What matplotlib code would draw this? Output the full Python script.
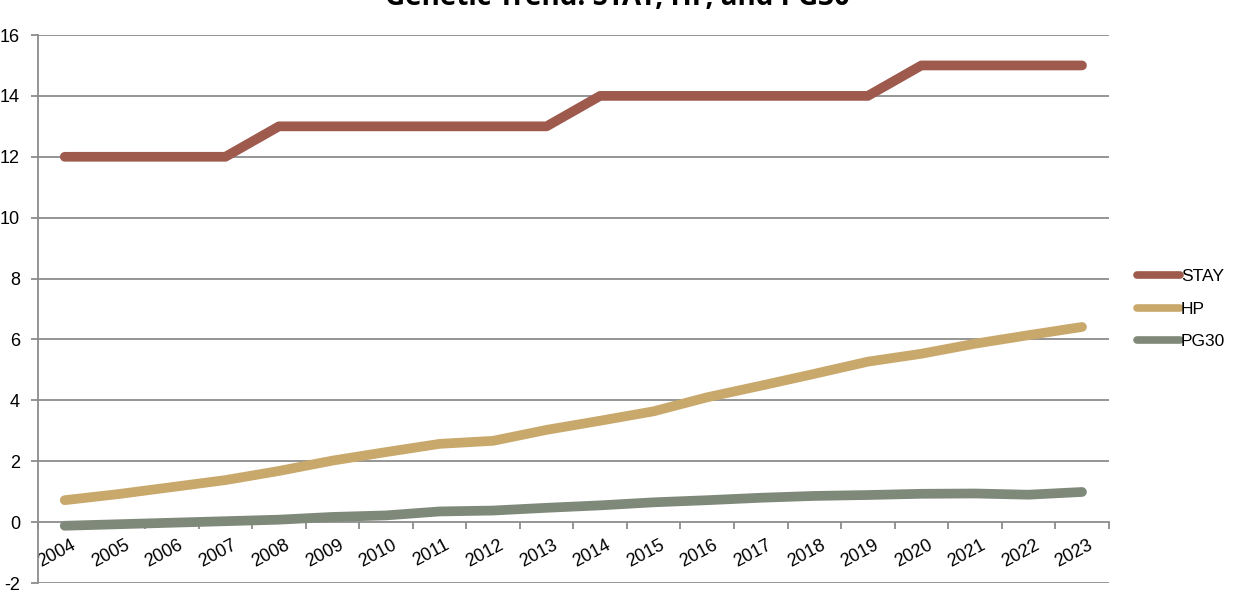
import matplotlib
matplotlib.use("Agg")
import matplotlib.pyplot as plt
import matplotlib.transforms as mtransforms
import numpy as np

years = [str(y) for y in range(2004, 2024)]
stay = [12, 12, 12, 12, 13, 13, 13, 13, 13, 13, 14, 14, 14, 14, 14, 14, 15, 15, 15, 15]
hp = [0.72, 0.92, 1.15, 1.38, 1.68, 2.02, 2.30, 2.57, 2.67, 3.03, 3.33, 3.64, 4.10, 4.48, 4.87, 5.27, 5.53, 5.86, 6.14, 6.41]
pg30 = [-0.12, -0.07, -0.02, 0.03, 0.08, 0.17, 0.22, 0.35, 0.38, 0.47, 0.55, 0.65, 0.72, 0.80, 0.86, 0.89, 0.93, 0.94, 0.90, 0.99]
series_names = ["STAY", "HP", "PG30"]
colors = ["#9E5A4D", "#C9A86C", "#7F897A"]
title = "Genetic Trend: STAY, HP, and PG30"
yticks = list(range(-2, 17, 2))

plt.rcParams['font.family'] = ['Liberation Sans', 'DejaVu Sans']

W, H = 1235, 599
fig = plt.figure(figsize=(W / 100, H / 100), dpi=100)
ax = fig.add_axes([38 / W, 1 - 583 / H, (1108.75 - 38) / W, (583 - 35) / H])

grid_c = "#8C8C8C"
x = np.arange(len(years))
for name, vals, c in zip(series_names, [stay, hp, pg30], colors):
    ax.plot(x, vals, color=c, lw=7, solid_capstyle='round', solid_joinstyle='round', label=name, zorder=3)

ax.set_xlim(-0.5, len(years) - 0.5)
ax.set_ylim(-2, 16)
ax.set_yticks(yticks)
ax.set_yticklabels([str(v) for v in yticks], fontsize=13)
for v in yticks:
    if v != 0:
        ax.axhline(v, color=grid_c, lw=1.3, zorder=1)

for s in ['top', 'right']:
    ax.spines[s].set_visible(False)
ax.spines['left'].set_color(grid_c)
ax.spines['left'].set_linewidth(1.3)
ax.spines['bottom'].set_position(('data', 0))
ax.spines['bottom'].set_color(grid_c)
ax.spines['bottom'].set_linewidth(1.3)
ax.spines['bottom'].set_zorder(1)

ax.set_xticks(np.arange(-0.5, len(years), 1.0))
ax.set_xticklabels([])
ax.set_xticks(x, minor=True)
ax.set_xticklabels(years, minor=True, rotation=28, fontsize=13, ha='center')
ax.tick_params(axis='x', which='major', length=5, width=1.3, color=grid_c, direction='out')
ax.tick_params(axis='x', which='minor', length=0, pad=9)
ax.tick_params(axis='y', length=5, width=1.3, color=grid_c, pad=8)
offset = mtransforms.ScaledTranslation(-8 / 100, -2 / 100, fig.dpi_scale_trans)
for lab in ax.xaxis.get_minorticklabels():
    lab.set_transform(lab.get_transform() + offset)

fig.text(0.5, 1 - 5 / H, title, ha='center', va='baseline', fontsize=20, fontweight='bold',
         family=['Open Sans', 'DejaVu Sans'])

leg = fig.legend(loc='center left', bbox_to_anchor=(1128 / W, 1 - 309 / H), frameon=False,
                 fontsize=12.5, handlelength=2.5, handletextpad=0.05, labelspacing=1.0,
                 borderpad=0)
for l in leg.get_lines():
    l.set_linewidth(5.5)

fig.savefig("out.png", dpi=100)
